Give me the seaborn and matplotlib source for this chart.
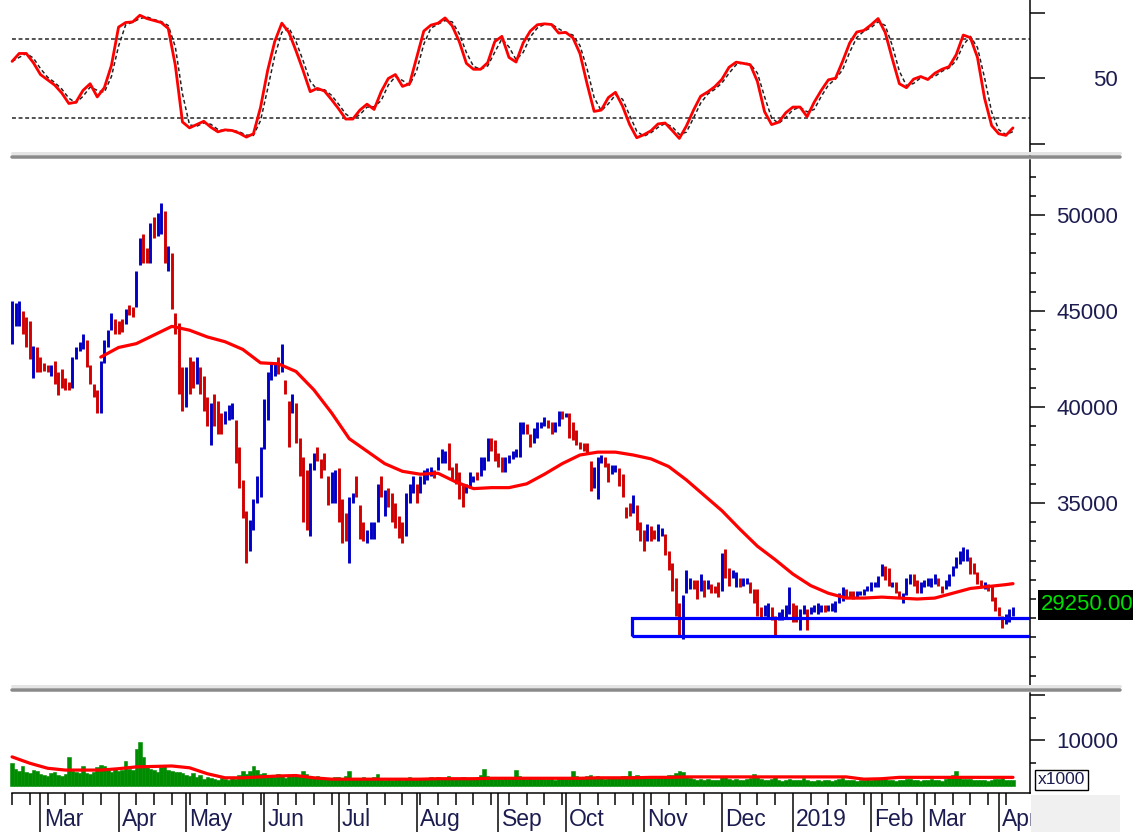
import numpy as np
import pandas as pd
import matplotlib
matplotlib.use("Agg")
import matplotlib.pyplot as plt
import seaborn as sns
from matplotlib.patches import Rectangle
from matplotlib.lines import Line2D

# ---------------- data (prices in hundreds of VND) ----------------
high_h = [
    455, 454, 455, 450, 447, 445, 432, 431, 426, 423,
    422, 422, 424, 418, 420, 415, 413, 426, 431, 434,
    438, 435, 422, 412, 409, 424, 435, 440, 449, 446,
    445, 446, 451, 453, 452, 471, 488, 490, 483, 496,
    499, 501, 506, 502, 484, 480, 449, 444, 421, 421,
    426, 424, 426, 421, 416, 405, 402, 407, 403, 397,
    398, 401, 402, 393, 379, 362, 346, 341, 352, 364,
    379, 404, 418, 423, 423, 426, 433, 414, 403, 407,
    402, 384, 374, 367, 371, 376, 379, 373, 376, 364,
    366, 367, 368, 352, 345, 353, 355, 364, 349, 340,
    336, 340, 340, 360, 364, 357, 358, 355, 350, 343,
    340, 355, 360, 364, 360, 364, 367, 368, 369, 367,
    374, 378, 377, 381, 369, 371, 366, 360, 360, 366,
    364, 366, 374, 374, 384, 384, 383, 376, 374, 374,
    375, 377, 378, 392, 392, 391, 386, 389, 392, 392,
    395, 393, 392, 392, 398, 398, 397, 397, 392, 388,
    382, 381, 381, 372, 369, 374, 375, 374, 371, 370,
    370, 368, 365, 348, 350, 354, 349, 340, 336, 339,
    338, 336, 339, 337, 334, 325, 319, 311, 298, 302,
    315, 311, 310, 310, 313, 310, 310, 308, 307, 309,
    324, 326, 316, 315, 314, 311, 311, 311, 309, 305,
    305, 296, 297, 298, 296, 291, 293, 295, 297, 306,
    298, 297, 295, 297, 295, 296, 297, 298, 297, 297,
    297, 298, 299, 303, 306, 305, 304, 304, 304, 304,
    305, 307, 309, 309, 312, 318, 317, 316, 309, 309,
    304, 303, 311, 313, 313, 310, 309, 310, 311, 311,
    313, 311, 307, 310, 313, 317, 322, 325, 327, 326,
    322, 319, 314, 310, 309, 308, 307, 301, 296, 291, 292, 295, 296,
]
low_h = [
    433, 442, 442, 438, 431, 425, 415, 418, 418, 419,
    418, 416, 412, 406, 410, 409, 409, 410, 425, 429,
    430, 421, 412, 405, 397, 397, 423, 431, 440, 438,
    438, 439, 443, 448, 447, 452, 474, 475, 475, 475,
    488, 489, 490, 475, 471, 451, 438, 407, 398, 400,
    407, 410, 412, 407, 398, 390, 380, 390, 386, 386,
    391, 393, 394, 371, 358, 342, 319, 325, 336, 350,
    353, 378, 393, 414, 416, 417, 418, 407, 379, 397,
    381, 364, 340, 336, 333, 367, 372, 363, 367, 349,
    350, 350, 340, 329, 330, 319, 350, 353, 331, 330,
    329, 331, 331, 340, 353, 343, 348, 340, 337, 332,
    329, 333, 350, 355, 350, 355, 360, 362, 364, 363,
    367, 371, 371, 367, 362, 360, 352, 348, 355, 358,
    361, 362, 364, 367, 372, 377, 372, 369, 366, 366,
    371, 373, 374, 374, 386, 386, 379, 381, 384, 389,
    390, 389, 386, 387, 390, 394, 395, 384, 383, 380,
    378, 377, 376, 356, 358, 352, 371, 369, 361, 365,
    366, 359, 353, 342, 343, 345, 336, 330, 325, 330,
    330, 331, 330, 333, 323, 315, 304, 291, 280, 279,
    303, 305, 305, 300, 304, 301, 305, 303, 303, 301,
    304, 311, 307, 311, 306, 306, 307, 308, 303, 298,
    291, 290, 291, 290, 289, 281, 289, 289, 290, 292,
    288, 288, 284, 292, 284, 292, 293, 292, 293, 293,
    294, 294, 293, 298, 299, 301, 301, 300, 301, 302,
    302, 304, 304, 306, 306, 312, 310, 307, 306, 303,
    301, 298, 302, 308, 307, 303, 303, 306, 307, 306,
    308, 307, 303, 305, 307, 312, 316, 318, 320, 320,
    313, 313, 308, 306, 305, 304, 299, 294, 291, 285, 287, 288, 291,
]
# B = up day (blue), R = down day (red)
bar_dir = ("BBBRRRBRRR" "RBRRRRRBBB" "BRRRRBBBBR" "RRBRRBBRRB" "RBBRBRRRRB"
           "RRBRRRBRRR" "BBBRRRRBBB" "BBBBBRBRRB" "RRRRBBRRRR" "BBRRRBBRRR"
           "BBBBRBRRRR" "RBBBRBBBBR" "BBBRRRRRBB" "BRBBBRRRRB" "BBBBBRRBBB"
           "BRRBBRBRRR" "RRRRBBBRRB" "BRRRRBRRRB" "RRBBRRRRRB" "BBRRBRBRRR"
           "BRRBBRBBRR" "RRBBRRBBBB" "RRBBRBBBBR" "BBBBBRRRBB" "BBBBBBRRBR"
           "RBBBRRBBBB" "BRRBBBBBBB" "RRRRBRRRRRBBB")
# volume (x1000 shares)
volume = [
    5000, 3800, 3200, 4500, 3000, 2800, 3500, 3200, 2600, 2400,
    2200, 2800, 3100, 2500, 2300, 2600, 6300, 3300, 3000, 2800,
    4500, 2800, 2600, 3000, 4200, 4600, 4400, 4000, 3000, 3800,
    3300, 3600, 5600, 3800, 3600, 8200, 9600, 6300, 4200, 3800,
    3500, 3000, 4200, 4600, 3600, 3400, 3100, 3000, 2800, 2500,
    2200, 2800, 1900, 2400, 1500, 2000, 1800, 1600, 1400, 1700,
    1500, 1300, 1800, 1600, 2400, 3200, 2700, 3300, 4500, 3600,
    2600, 2900, 2200, 2400, 2000, 2700, 2300, 1800, 2300, 2100,
    2500, 2100, 3300, 2600, 2000, 1800, 2200, 1700, 1500, 1800,
    1600, 1900, 2000, 1800, 2300, 3200, 1600, 1500, 1800, 2000,
    1500, 1600, 2000, 2600, 1700, 1400, 1500, 1300, 1500, 1600,
    1400, 1800, 2000, 1600, 1500, 1700, 1800, 1500, 1900, 1600,
    2000, 1700, 1800, 2300, 1600, 1500, 1700, 1900, 1600, 1800,
    1700, 1600, 2400, 3700, 2100, 1800, 1600, 1700, 1500, 1800,
    1600, 1900, 3600, 2200, 1700, 1600, 1800, 1500, 1600, 1700,
    1500, 1600, 1800, 1400, 1700, 1900, 1600, 1800, 3400, 2200,
    2000, 1800, 2100, 2400, 1900, 2200, 1700, 1600, 1800, 2000,
    1700, 1900, 2300, 2100, 3400, 2200, 2400, 2000, 2300, 1900,
    1800, 1700, 2000, 1900, 2200, 2500, 2400, 2800, 3400, 3000,
    2000, 1700, 1500, 1400, 1600, 1300, 1500, 1400, 1300, 1400,
    2100, 1900, 1500, 1400, 1500, 1300, 1400, 1500, 1700, 2600,
    2100, 1500, 1400, 1300, 1600, 1900, 1300, 1200, 1400, 1500,
    1400, 1300, 1400, 1700, 1300, 1200, 1100, 1300, 1200, 1400,
    1300, 1200, 1400, 1500, 1700, 1300, 1400, 1300, 1200, 1400,
    1300, 1500, 1400, 1600, 1500, 1800, 1600, 1400, 1300, 1200,
    1300, 1400, 1500, 1600, 1400, 1300, 1200, 1400, 1300, 1500,
    1400, 1300, 1100, 1600, 1700, 2400, 3300, 1800, 1600, 1500,
    1500, 1400, 1300, 1400, 1300, 1200, 1400, 1600, 1500, 1700, 1400, 1300, 1300,
]
# price moving average, sampled every 5 sessions from session 25 (+ last session)
ma_h = [426, 431, 433, 437.5, 442, 440, 436.5, 434, 430, 423, 422.5, 418.5, 409,
        397, 383.5, 377, 370.5, 366.5, 365, 365.5, 361, 357.5, 358, 358, 360, 365,
        370.5, 375, 376.5, 376.5, 375, 373, 369, 362, 354, 346, 336.5, 327.5,
        320.5, 313, 307, 303, 300.5, 300.5, 301, 300.5, 300, 300.5, 303, 305.5,
        306.5, 307.5, 308]
# volume moving average, every 5 sessions from session 0 (+ last session)
vol_ma = [6400, 5000, 3900, 3500, 3500, 3500, 3800, 4200, 4300, 4400,
          4000, 2700, 1800, 1800, 2000, 2200, 2300, 1800, 1500, 1500,
          1500, 1500, 1500, 1500, 1600, 1600, 1600, 1700, 1700, 1700,
          1700, 1700, 1700, 1800, 1800, 1800, 1900, 1900, 2000, 2000,
          2000, 2000, 2000, 2000, 2000, 2000, 2000, 2000, 1500, 1600,
          1900, 1900, 1900, 1900, 1900, 1900, 1900, 1900]
# oscillator, every 2 sessions
stoch = [63, 69, 69, 62, 53, 49, 45, 39, 31, 32,
         41, 46, 36, 43, 60, 89, 92.5, 93, 98, 95.5,
         94, 92.5, 88, 60, 17, 12.5, 15, 17.5, 13, 9.5,
         11, 10.5, 8.5, 5.5, 8, 28, 56, 78, 92, 85,
         71, 56, 40, 42.5, 40.5, 34, 27, 19.2, 19.2, 26,
         30.5, 26.5, 40, 50, 53, 44, 46, 66, 86, 90.5,
         92, 96, 90, 78, 61.5, 57, 57, 62, 78, 82,
         66, 62.5, 77, 86, 90.8, 91.5, 91, 84.5, 85, 81,
         69, 46, 25, 26, 35.5, 39.5, 29, 15, 5, 7.3,
         10.3, 15.5, 16.2, 10.5, 4.5, 14, 26, 36.5, 39.8, 43.8,
         49.4, 58.5, 62.4, 61.5, 60.4, 47.7, 24.9, 15, 16.8, 24,
         28.3, 28.3, 21, 32, 41, 49, 50.2, 63, 77, 85.3,
         86.5, 90.7, 95.5, 85, 65, 46, 43, 49.5, 51.5, 49.2,
         54, 57, 59, 68, 83, 81, 66, 35, 14.2, 8,
         6.8, 12.5]
stoch_levels = [20, 80]
month_labels = ["Mar", "Apr", "May", "Jun", "Jul", "Aug", "Sep", "Oct", "Nov",
                "Dec", "2019", "Feb", "Mar", "Apr"]
month_first_day = [8, 30, 49, 71, 92, 114, 137, 156, 178, 200, 220, 242, 257, 278]
last_price_label = "29250.00"
support_low_h, support_high_h = 280.7, 290.1
support_start_day = 174.6

# ---------------- style ----------------
sns.set_theme(style="white")
plt.rcParams['font.family'] = ['Liberation Sans', 'DejaVu Sans']

n = len(high_h)
day = np.arange(n)
high = np.array(high_h, float) * 100
low = np.array(low_h, float) * 100
colors = ['#0000c4' if c == 'B' else '#d00000' for c in bar_dir]
ma_day = np.r_[np.arange(25, n - 2, 5), n - 1]
vma_day = np.r_[np.arange(0, n - 2, 5), n - 1]
st_day = np.arange(0, n, 2)

W, H = 1133, 832
PT = 0.72
fig = plt.figure(figsize=(W / 100, H / 100), dpi=100, facecolor='white')


def px_axes(x0, y0, x1, y1):
    return fig.add_axes([x0 / W, 1 - y1 / H, (x1 - x0) / W, (y1 - y0) / H])


ax_st = px_axes(0, 0, 1030, 155)
ax_px = px_axes(0, 160, 1030, 686)
ax_vol = px_axes(0, 693, 1030, 793)

XL = (-3.4, 286.8)
LABEL_COLOR = '#1c1c50'


def style_right(ax, majors, labels, minors):
    ax.set_xlim(*XL)
    ax.set_facecolor('white')
    for s in ['top', 'left', 'bottom']:
        ax.spines[s].set_visible(False)
    ax.spines['right'].set_color('black')
    ax.spines['right'].set_linewidth(1.5 * PT)
    ax.yaxis.tick_right()
    ax.set_yticks(majors)
    ax.set_yticklabels(labels)
    ax.set_yticks(minors, minor=True)
    ax.tick_params(axis='y', which='major', right=True, left=False, direction='out',
                   length=15 * PT, width=1.5 * PT, color='black',
                   pad=(88 - 15) * PT, labelsize=16, labelcolor=LABEL_COLOR)
    ax.tick_params(axis='y', which='minor', right=True, left=False, direction='out',
                   length=6 * PT, width=1.5 * PT, color='black')
    for t in ax.get_yticklabels():
        t.set_horizontalalignment('right')
    ax.tick_params(axis='x', which='both', bottom=False, top=False, labelbottom=False)
    ax.set_xlabel('')
    ax.set_ylabel('')


# ---------------- oscillator panel ----------------
st = pd.Series(stoch, dtype=float)
st_signal = st.rolling(2, min_periods=1).mean()
ax_st.hlines(stoch_levels, 0, XL[1], colors='#202020', linestyles=(0, (2.6, 1.8)),
             lw=1.5 * PT)
sns.lineplot(x=st_day, y=st_signal.values, ax=ax_st, color='#202020', lw=1.5 * PT,
             linestyle=(0, (2.6, 1.8)))
sns.lineplot(x=st_day, y=st.values, ax=ax_st, color='#ff0000', lw=2.8 * PT)
ax_st.set_ylim(-8.1, 109.6)
style_right(ax_st, [0, 50, 100], ['', '50', ''], [])

# ---------------- price panel ----------------
ax_px.vlines(day, low, high, colors=colors, lw=2.9 * PT, zorder=3)
sns.lineplot(x=ma_day, y=np.array(ma_h) * 100, ax=ax_px, color='#ff0000',
             lw=3.2 * PT, zorder=4)
ax_px.add_patch(Rectangle((support_start_day, support_low_h * 100), 200,
                          (support_high_h - support_low_h) * 100, fill=False,
                          ec='#0000ff', lw=3.2 * PT, zorder=5))
ax_px.set_ylim(25470, 52864)
px_major = [35000, 40000, 45000, 50000]
px_minor = [v for v in range(26000, 53000, 1000) if v not in px_major]
style_right(ax_px, px_major, [str(v) for v in px_major], px_minor)

# ---------------- volume panel ----------------
sns.barplot(x=day, y=volume, ax=ax_vol, native_scale=True, width=1.0,
            color='#008c00', saturation=1, errorbar=None, lw=0.4,
            edgecolor='#008c00', zorder=2)
sns.lineplot(x=vma_day, y=vol_ma, ax=ax_vol, color='#ff0000', lw=3.2 * PT, zorder=4)
ax_vol.set_ylim(-1540, 20440)
style_right(ax_vol, [10000, 20000], ['10000', ''], [5000, 15000])
ax_vol.spines['bottom'].set_visible(True)
ax_vol.spines['bottom'].set_color('black')
ax_vol.spines['bottom'].set_linewidth(1.5 * PT)
ax_vol.spines['bottom'].set_bounds(0, XL[1])
ax_vol.set_xticks(month_first_day)
ax_vol.set_xticks(np.arange(0, n, 5), minor=True)
ax_vol.tick_params(axis='x', which='major', bottom=True, direction='out',
                   length=40 * PT, width=1.5 * PT, color='black', labelbottom=False)
ax_vol.tick_params(axis='x', which='minor', bottom=True, direction='out',
                   length=12 * PT, width=1.5 * PT, color='black')
ax_vol.set_xlim(*XL)
for d, lab in zip(month_first_day, month_labels):
    ax_vol.text(d + 0.9, -0.265, lab, transform=ax_vol.get_xaxis_transform(),
                ha='left', va='center', fontsize=16.5, color=LABEL_COLOR,
                clip_on=False)

# ---------------- decorations in figure pixels ----------------
def fy(y):
    return 1 - y / H


for y, c, w in [(153, '#e4e4e4', 3), (156.5, '#8a8a8a', 3.5),
                (686, '#e4e4e4', 3), (690, '#8a8a8a', 3.5)]:
    fig.add_artist(Line2D([12 / W, 1120 / W], [fy(y), fy(y)], color=c,
                          lw=w * PT, zorder=6))

fig.add_artist(Rectangle((1031 / W, fy(832)), (1120 - 1031) / W, 37 / H,
                         transform=fig.transFigure, fc='#f0f0f0', ec='none',
                         zorder=10))
# black price box reaching the right edge, with the label fitted inside it
fig.add_artist(Rectangle((1038 / W, fy(620)), (W - 1038) / W, 30 / H,
                         transform=fig.transFigure, fc='black', ec='none',
                         zorder=10))
fig.text(1041 / W, fy(605), last_price_label, color='#00e000', fontsize=16,
         ha='left', va='center', zorder=11)
fig.text(1038 / W, fy(780), 'x1000', color=LABEL_COLOR, fontsize=12.5,
         ha='left', va='center', zorder=11,
         bbox=dict(boxstyle='square,pad=0.15', fc='white', ec='black', lw=1.0))

fig.savefig('out.png', dpi=100, facecolor='white')
